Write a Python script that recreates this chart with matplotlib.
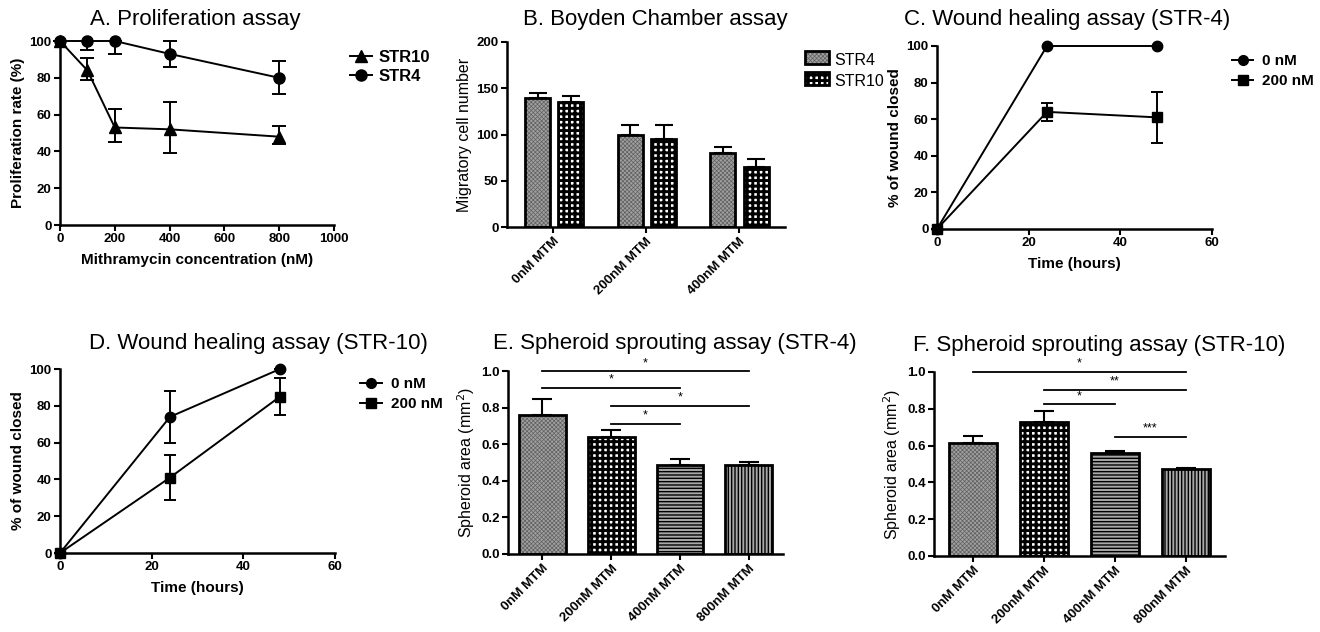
import numpy as np
import matplotlib
matplotlib.use("Agg")
import matplotlib.pyplot as plt
from matplotlib.lines import Line2D
from matplotlib.patches import Patch, Rectangle

plt.rcParams['font.family'] = ['Liberation Sans', 'DejaVu Sans']

# ---------------- data ----------------
# A. Proliferation assay
conc_A = [0, 100, 200, 400, 800]
str10_A = [100, 84, 53, 52, 48]
str10_A_lo = [0, 5, 8, 13, 4]
str10_A_hi = [0, 7, 10, 15, 6]
str4_A = [100, 100, 100, 93, 80]
str4_A_lo = [0, 5, 7, 7, 9]
str4_A_hi = [0, 0, 0, 7, 9]

# B. Boyden chamber
groups_B = ['0nM MTM', '200nM MTM', '400nM MTM']
str4_B = [140, 100, 80]
str4_B_err = [5, 10, 7]
str10_B = [135, 95, 65]
str10_B_err = [7, 15, 8]

# C. Wound healing STR-4
time_C = [0, 24, 48]
c0_C = [0, 100, 100]
c200_C = [0, 64, 61]
c200_C_err = [0, 5, 14]

# D. Wound healing STR-10
time_D = [0, 24, 48]
c0_D = [0, 74, 100]
c0_D_err = [0, 14, 0]
c200_D = [0, 41, 85]
c200_D_err = [0, 12, 10]

# E. Spheroid STR-4
groups_EF = ['0nM MTM', '200nM MTM', '400nM MTM', '800nM MTM']
vals_E = [0.76, 0.638, 0.487, 0.487]
err_E = [0.088, 0.038, 0.033, 0.016]
sig_E = [(0, 3, 0.998, '*'), (0, 2, 0.909, '*'), (1, 3, 0.811, '*'), (1, 2, 0.713, '*')]

# F. Spheroid STR-10
vals_F = [0.612, 0.730, 0.560, 0.471]
err_F = [0.040, 0.060, 0.009, 0.009]
sig_F = [(0, 3, 1.0, '*'), (1, 3, 0.904, '**'), (1, 2, 0.824, '*'), (2, 3, 0.647, '***')]

# ---------------- styles ----------------
FINE = dict(face='#a0a0a0', hatch='xxxxxxxx', hcolor='#606060', hlw=0.5)
CHECK = dict(face='white', hatch='+++', hcolor='black', hlw=2.1)
HORIZ = dict(face='#a8a8a8', hatch='-----', hcolor='black', hlw=1.0)
VERT = dict(face='#a8a8a8', hatch='|||||', hcolor='black', hlw=1.0)

TICK_FS = 9.5
XROT_FS = 9.5
LAB_FS = 11
TITLE_FS = 16

W, H = 1320, 632
fig = plt.figure(figsize=(W / 100, H / 100), dpi=100)


def axes_px(x0, x1, y0, y1):
    return fig.add_axes([x0 / W, 1 - y1 / H, (x1 - x0) / W, (y1 - y0) / H])


def style(ax, rot=False):
    for s in ['top', 'right']:
        ax.spines[s].set_visible(False)
    for s in ['left', 'bottom']:
        ax.spines[s].set_linewidth(1.8)
    ax.tick_params(direction='out', length=4, width=1.5, labelsize=TICK_FS, pad=2)
    if rot:
        ax.tick_params(axis='x', labelsize=XROT_FS)
    for lab in ax.get_xticklabels() + ax.get_yticklabels():
        lab.set_fontweight('bold')


def hbar(ax, x, h, w, st):
    with plt.rc_context({'hatch.linewidth': st['hlw']}):
        bars = ax.bar(x, h, w, color=st['face'], edgecolor=st['hcolor'],
                      hatch=st['hatch'], linewidth=0, zorder=2)
        for b in bars:
            try:
                b.set_hatch_linewidth(st['hlw'])
            except Exception:
                pass
    ax.bar(x, h, w, fill=False, edgecolor='black', linewidth=2.0, zorder=3)
    return bars


def title(x, y, s):
    fig.text(x / W, 1 - y / H, s, ha='center', va='center', fontsize=TITLE_FS)


# ---------------- A ----------------
axA = axes_px(60, 334, 41, 225)
axA.errorbar(conc_A, str10_A, yerr=[str10_A_lo, str10_A_hi], color='black', lw=1.4,
             marker='^', ms=8.5, capsize=5, elinewidth=1.4, capthick=1.4, clip_on=False,
             zorder=3)
axA.errorbar(conc_A, str4_A, yerr=[str4_A_lo, str4_A_hi], color='black', lw=1.4,
             marker='o', ms=8, capsize=5, elinewidth=1.4, capthick=1.4, clip_on=False,
             zorder=3)
axA.set_xlim(0, 1000)
axA.set_ylim(0, 100)
axA.set_xticks(range(0, 1001, 200))
axA.set_yticks(range(0, 101, 20))
axA.set_xlabel('Mithramycin concentration (nM)', fontsize=LAB_FS, fontweight='bold', labelpad=5.5)
axA.set_ylabel('Proliferation rate (%)', fontsize=LAB_FS, fontweight='bold', labelpad=3)
style(axA)
hA = [Line2D([], [], color='black', lw=1.4, marker='^', ms=8.5),
      Line2D([], [], color='black', lw=1.4, marker='o', ms=8)]
axA.legend(hA, ['STR10', 'STR4'], loc='upper left', bbox_to_anchor=(1.035, 0.99),
           frameon=False, handlelength=1.3, handletextpad=0.4,
           prop={'weight': 'bold', 'size': 12},
           borderaxespad=0, labelspacing=0.25)
title(195, 20, 'A. Proliferation assay')

# ---------------- B ----------------
axB = axes_px(507, 785, 42, 227)
xB = np.arange(len(groups_B))
wB = 0.27
hbar(axB, xB - 0.17, str4_B, wB, FINE)
hbar(axB, xB + 0.19, str10_B, wB, CHECK)
axB.errorbar(xB - 0.17, str4_B, yerr=[np.zeros(3), str4_B_err], fmt='none', ecolor='black',
             elinewidth=1.5, capsize=6.5, capthick=1.5, zorder=4)
axB.errorbar(xB + 0.19, str10_B, yerr=[np.zeros(3), str10_B_err], fmt='none', ecolor='black',
             elinewidth=1.5, capsize=6.5, capthick=1.5, zorder=4)
axB.set_xlim(-0.5, 2.5)
axB.set_ylim(0, 200)
axB.set_yticks(range(0, 201, 50))
axB.set_xticks(xB)
axB.set_xticklabels(groups_B, rotation=45, ha='right', rotation_mode='anchor')
axB.set_ylabel('Migratory cell number', fontsize=11.5, labelpad=3)
style(axB, rot=True)


class HatchHandler:
    def __init__(self, st):
        self.st = st

    def legend_artist(self, legend, orig_handle, fontsize, handlebox):
        x0, y0 = handlebox.xdescent, handlebox.ydescent
        w, h = handlebox.width, handlebox.height
        with plt.rc_context({'hatch.linewidth': self.st['hlw']}):
            r1 = Rectangle((x0, y0), w, h, facecolor=self.st['face'],
                           edgecolor=self.st['hcolor'], hatch=self.st['hatch'], lw=0,
                           transform=handlebox.get_transform())
            try:
                r1.set_hatch_linewidth(self.st['hlw'])
            except Exception:
                pass
        r2 = Rectangle((x0, y0), w, h, fill=False, edgecolor='black', lw=2.0,
                       transform=handlebox.get_transform())
        handlebox.add_artist(r1)
        handlebox.add_artist(r2)
        return r2


p1, p2 = Patch(), Patch()
axB.legend([p1, p2], ['STR4', 'STR10'], loc='upper left', bbox_to_anchor=(1.05, 0.975),
           frameon=False, handlelength=1.5, handleheight=0.85, fontsize=11.5,
           borderaxespad=0, labelspacing=0.35, handletextpad=0.3,
           handler_map={p1: HatchHandler(FINE), p2: HatchHandler(CHECK)})
title(655, 20, 'B. Boyden Chamber assay')

# ---------------- C ----------------
axC = axes_px(937, 1212, 46, 229)
axC.plot(time_C, c0_C, color='black', lw=1.4, marker='o', ms=7.5, clip_on=False, zorder=3)
axC.errorbar(time_C, c200_C, yerr=c200_C_err, color='black', lw=1.4, marker='s', ms=7.5,
             capsize=4.5, elinewidth=1.4, capthick=1.4, clip_on=False, zorder=3)
axC.set_xlim(0, 60)
axC.set_ylim(0, 100)
axC.set_xticks(range(0, 61, 20))
axC.set_yticks(range(0, 101, 20))
axC.set_xlabel('Time (hours)', fontsize=LAB_FS, fontweight='bold', labelpad=5.5)
axC.set_ylabel('% of wound closed', fontsize=LAB_FS, fontweight='bold', labelpad=3)
style(axC)
hC = [Line2D([], [], color='black', lw=1.4, marker='o', ms=7),
      Line2D([], [], color='black', lw=1.4, marker='s', ms=7)]
axC.legend(hC, ['0 nM', '200 nM'], loc='upper left', bbox_to_anchor=(1.05, 0.99),
           frameon=False, handlelength=1.4, handletextpad=0.6,
           prop={'weight': 'bold', 'size': 11},
           borderaxespad=0, labelspacing=0.4)
title(1067, 19, 'C. Wound healing assay (STR-4)')

# ---------------- D ----------------
axD = axes_px(60, 335, 369, 553)
axD.errorbar(time_D, c0_D, yerr=c0_D_err, color='black', lw=1.4, marker='o', ms=7.5,
             capsize=4.5, elinewidth=1.4, capthick=1.4, clip_on=False, zorder=3)
axD.errorbar(time_D, c200_D, yerr=c200_D_err, color='black', lw=1.4, marker='s', ms=7.5,
             capsize=4.5, elinewidth=1.4, capthick=1.4, clip_on=False, zorder=3)
axD.set_xlim(0, 60)
axD.set_ylim(0, 100)
axD.set_xticks(range(0, 61, 20))
axD.set_yticks(range(0, 101, 20))
axD.set_xlabel('Time (hours)', fontsize=LAB_FS, fontweight='bold', labelpad=5.5)
axD.set_ylabel('% of wound closed', fontsize=LAB_FS, fontweight='bold', labelpad=3)
style(axD)
axD.legend(hC, ['0 nM', '200 nM'], loc='upper left', bbox_to_anchor=(1.07, 0.99),
           frameon=False, handlelength=1.4, handletextpad=0.6,
           prop={'weight': 'bold', 'size': 11},
           borderaxespad=0, labelspacing=0.4)
title(258, 343, 'D. Wound healing assay (STR-10)')


# ---------------- E / F ----------------
def spheroid(ax, vals, errs, sigs):
    x = np.arange(len(vals))
    for i, st in enumerate([FINE, CHECK, HORIZ, VERT]):
        hbar(ax, x[i], vals[i], 0.68, st)
    ax.errorbar(x, vals, yerr=[np.zeros(len(vals)), errs], fmt='none', ecolor='black',
                elinewidth=1.5, capsize=7.5, capthick=1.5, zorder=4)
    for a, b, y, s in sigs:
        ax.plot([x[a], x[b]], [y, y], color='black', lw=1.3, clip_on=False)
        ax.text((x[a] + x[b]) / 2, y + 0.012, s, ha='center', va='bottom', fontsize=9)
    ax.set_xlim(-0.5, 3.5)
    ax.set_ylim(0, 1.0)
    ax.set_yticks(np.arange(0, 1.01, 0.2))
    ax.set_yticklabels(['%.1f' % v for v in np.arange(0, 1.01, 0.2)])
    ax.set_xticks(x)
    ax.set_xticklabels(groups_EF, rotation=45, ha='right', rotation_mode='anchor')
    ax.set_ylabel('Spheroid area (mm$^{2}$)', fontsize=11.5, labelpad=3)
    style(ax, rot=True)


axE = axes_px(508, 783, 371, 554)
spheroid(axE, vals_E, err_E, sig_E)
title(675, 344, 'E. Spheroid sprouting assay (STR-4)')

axF = axes_px(934, 1225, 372, 556)
spheroid(axF, vals_F, err_F, sig_F)
axF.set_xlim(-0.55, 3.55)
title(1099, 345, 'F. Spheroid sprouting assay (STR-10)')

fig.savefig('out.png', dpi=100)
